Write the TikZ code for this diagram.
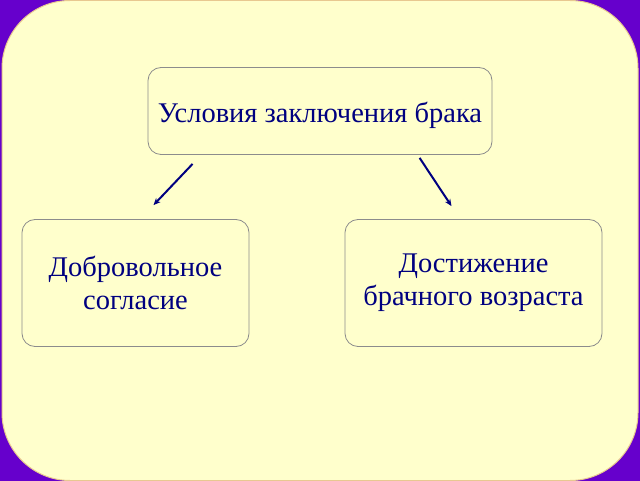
\documentclass[tikz,border=0pt]{standalone}
\usepackage{fontspec}
\setmainfont{Liberation Serif}
\newfontfamily\condfont{Liberation Serif}
\usetikzlibrary{arrows.meta, positioning, calc}
\definecolor{bkviolet}{HTML}{6600CC}
\definecolor{bkpaper}{HTML}{FFFFCC}
\definecolor{bkedge}{HTML}{E8C890}
\definecolor{bkgray}{HTML}{8C8C8C}
\definecolor{bknavy}{HTML}{000080}

\tikzset{
  condbox/.style={draw=bkgray, line width=0.8pt, fill=bkpaper, rounded corners=13pt,
    text=bknavy, align=center, font=\condfont\fontsize{28.5}{33}\selectfont, inner sep=0pt},
  condarrow/.style={draw=bknavy, line width=2pt, -{Stealth[length=7pt,width=6pt]}}
}

\begin{document}
\begin{tikzpicture}[x=1pt, y=-1pt]
  % Background and panel
  \fill[bkviolet] (0,0) rectangle (640,480);
  \draw[bkedge, fill=bkpaper, line width=1pt, rounded corners=68pt] (2,0) rectangle (638,480);
  \useasboundingbox (0,0) rectangle (640,480);

  % Boxes
  \node[condbox, minimum width=344pt, minimum height=87pt, text height=29pt] (cond) at (320,110.5) {Условия заключения брака};
  \node[condbox, minimum width=227pt, minimum height=127pt] (consent) at (135.5,282.5) {Добровольное\\согласие};
  \node[condbox, minimum width=257pt, minimum height=127pt] (age) at (473.5,282.5) {Достижение\\брачного возраста};

  % Arrow ends
  \coordinate (ls) at ($(cond.south west)+(45,9)$);
  \coordinate (le) at ($(consent.north)+(18,-14)$);
  \coordinate (rs) at ($(cond.south west)+(272,3)$);
  \coordinate (re) at ($(age.north)+(-22,-13)$);

  % Arrows
  \draw[condarrow] (ls) -- (le);
  \draw[condarrow] (rs) -- (re);
\end{tikzpicture}
\end{document}
